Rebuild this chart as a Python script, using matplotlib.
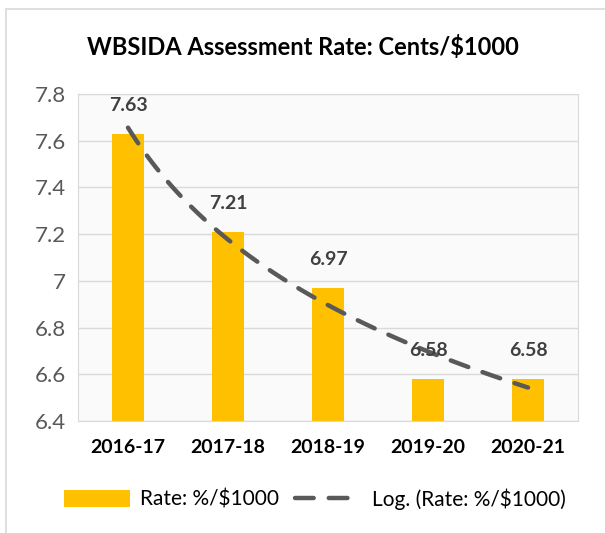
import numpy as np
import matplotlib.pyplot as plt
from matplotlib.patches import Rectangle

years = ["2016-17", "2017-18", "2018-19", "2019-20", "2020-21"]
rates = [7.63, 7.21, 6.97, 6.58, 6.58]
y_ticks = [6.4, 6.6, 6.8, 7.0, 7.2, 7.4, 7.6, 7.8]
y_tick_labels = ["6.4", "6.6", "6.8", "7", "7.2", "7.4", "7.6", "7.8"]

C_BAR = "#FFC000"
C_TREND = "#595959"
C_GRID = "#D9D9D9"

plt.rcParams["font.family"] = ["Lato", "DejaVu Sans"]

fig = plt.figure(figsize=(6.05, 5.33), dpi=100)
# outer chart border
fig.patches.append(Rectangle((6 / 605, -0.1), 1.2, 1.1 - 9 / 533,
                             transform=fig.transFigure, fill=False,
                             edgecolor="#D9D9D9", linewidth=1.2))

ax = fig.add_axes([78 / 605, 1 - 421 / 533, 500 / 605, 327 / 533])
ax.set_facecolor("#FAFAFA")

x = np.arange(1, len(years) + 1)
bars = ax.bar(x, rates, width=0.32, color=C_BAR, zorder=2, label="Rate: %/$1000")

# logarithmic trendline (least squares on ln x)
b, a = np.polyfit(np.log(x), rates, 1)
xs = np.linspace(1, len(years), 100)
trend, = ax.plot(xs, a + b * np.log(xs), color=C_TREND, linewidth=3.2,
                 dashes=(4.2, 3.4), dash_capstyle="round", zorder=3,
                 label="Log. (Rate: %/$1000)")

for xi, r in zip(x, rates):
    ax.text(xi, r + 0.085, f"{r:.2f}", ha="center", va="bottom",
            fontsize=14, fontweight="bold", color="#404040", zorder=4)

ax.set_xlim(0.5, len(years) + 0.5)
ax.set_ylim(6.4, 7.8)
ax.set_xticks(x)
ax.set_xticklabels(years, fontsize=14, fontweight="bold", color="black")
ax.set_yticks(y_ticks)
ax.set_yticklabels(y_tick_labels, fontsize=16, color="#595959")
ax.tick_params(length=0, pad=13)
ax.tick_params(axis="y", pad=9)
ax.grid(axis="y", color=C_GRID, linewidth=1, zorder=0)
for s in ax.spines.values():
    s.set_color(C_GRID)

fig.text(0.5, 1 - 47 / 533, "WBSIDA Assessment Rate: Cents/$1000",
         ha="center", va="center", fontsize=17, fontweight="bold")

fig.legend(handles=[bars, trend], loc="center",
           bbox_to_anchor=(0.52, 1 - 499 / 533), ncol=2,
           frameon=False, fontsize=15, handlelength=3.2, handleheight=0.9,
           columnspacing=0.8, handletextpad=0.45)

fig.savefig("out.png", dpi=100)
